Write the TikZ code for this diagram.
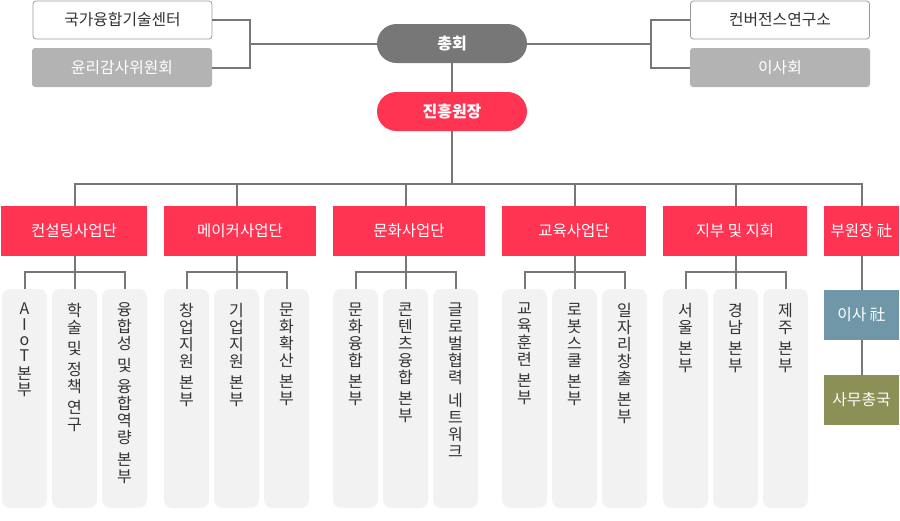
\documentclass[tikz,border=0pt]{standalone}
\usepackage{fontspec}
\setmainfont{Noto Sans CJK KR}
\usetikzlibrary{calc}
\definecolor{kred}{HTML}{FF3352}
\definecolor{cgray}{HTML}{777777}
\definecolor{dgray}{HTML}{777777}
\definecolor{lgray}{HTML}{B3B3B3}
\definecolor{bord}{HTML}{999999}
\definecolor{subg}{HTML}{F2F2F2}
\definecolor{dtext}{HTML}{333333}
\definecolor{kblue}{HTML}{6F97A8}
\definecolor{kolive}{HTML}{8A9056}
\begin{document}
\begin{tikzpicture}[x=1pt,y=-1pt,
  conn/.style={draw=cgray, line width=2pt},
  topw/.style={draw=bord, line width=0.8pt, fill=white, rounded corners=3pt, minimum width=179pt, minimum height=38pt, inner sep=0pt, text=dtext, font=\fontsize{15.8}{18}\selectfont},
  topg/.style={fill=lgray, rounded corners=3pt, minimum width=180pt, minimum height=39pt, inner sep=0pt, text=white, font=\fontsize{15.8}{18}\selectfont},
  pill/.style={rounded corners=19.5pt, minimum width=150pt, minimum height=39pt, inner sep=0pt, text=white, font=\fontsize{16}{18}\selectfont\bfseries},
  secbox/.style={fill=kred, minimum height=50pt, inner sep=0pt, text=white, font=\fontsize{15.5}{17}\selectfont},
  subbox/.style={fill=subg, rounded corners=8pt, minimum width=45pt, minimum height=219pt, inner sep=0pt},
  vt/.style={anchor=north, align=center, inner sep=0pt, text=dtext, font=\fontsize{16}{17}\selectfont},
  sidebox/.style={minimum width=75pt, minimum height=50pt, inner sep=0pt, text=white, font=\fontsize{15.8}{18}\selectfont}
]
\useasboundingbox (0,0) rectangle (900,520);

% top
\node[topw] (c1) at (122.5,20) {국가융합기술센터};
\node[topg] (c2) at (122,67.5) {윤리감사위원회};
\node[topw] (c3) at (780,20) {컨버전스연구소};
\node[topg] (c4) at (780,67.5) {이사회};
\node[pill, fill=dgray] (chong) at (452,43.5) {총회};
\node[pill, fill=kred] (jin) at (452,111.5) {진흥원장};

% sections
\node[secbox, minimum width=146pt] (s1) at (74,231) {컨설팅사업단};
\node[secbox, minimum width=152pt] (s2) at (240,231) {메이커사업단};
\node[secbox, minimum width=152pt] (s3) at (409,231) {문화사업단};
\node[secbox, minimum width=144pt] (s4) at (574,231) {교육사업단};
\node[secbox, minimum width=144pt] (s5) at (735,231) {지부 및 지회};
\node[secbox, minimum width=75pt] (s6) at (861.5,231) {부원장 社};

\node[sidebox, fill=kblue] (g1) at (861.5,315) {이사 社};
\node[sidebox, fill=kolive] (g2) at (861.5,400) {사무총국};

% sub boxes
\foreach \n/\x in {a1/24.5,a2/74.5,a3/124.5,b1/186.5,b2/236.5,b3/286.5,c1s/355.5,c2s/405.5,c3s/455.5,d1/524.5,d2/574.5,d3/624.5,e1/685.5,e2/735.5,e3/785.5}
  \node[subbox] (\n) at (\x,398.5) {};

\node[vt, font=\fontsize{16}{15.5}\selectfont] (ta1) at ([yshift=-14pt]a1.north) {A\\I\\o\\T\\[3pt]본\\부};
\node[vt] (ta2) at ([yshift=-14pt]a2.north) {학\\술\\[4pt]및\\[4pt]정\\책\\[4pt]연\\구};
\node[vt] (ta3) at ([yshift=-14pt]a3.north) {융\\합\\성\\[5pt]및\\[4pt]융\\합\\역\\량\\[5pt]본\\부};
\node[vt] (tb1) at ([yshift=-14pt]b1.north) {창\\업\\지\\원\\[4pt]본\\부};
\node[vt] (tb2) at ([yshift=-14pt]b2.north) {기\\업\\지\\원\\[4pt]본\\부};
\node[vt] (tb3) at ([yshift=-14pt]b3.north) {문\\화\\확\\산\\[4pt]본\\부};
\node[vt] (tc1) at ([yshift=-14pt]c1s.north) {문\\화\\융\\합\\[4pt]본\\부};
\node[vt] (tc2) at ([yshift=-14pt]c2s.north) {콘\\텐\\츠\\융\\합\\[4pt]본\\부};
\node[vt] (tc3) at ([yshift=-14pt]c3s.north) {글\\로\\벌\\협\\력\\[6pt]네\\트\\워\\크};
\node[vt] (td1) at ([yshift=-14pt]d1.north) {교\\육\\훈\\련\\[4pt]본\\부};
\node[vt] (td2) at ([yshift=-14pt]d2.north) {로\\봇\\스\\쿨\\[4pt]본\\부};
\node[vt] (td3) at ([yshift=-14pt]d3.north) {일\\자\\리\\창\\출\\[4pt]본\\부};
\node[vt] (te1) at ([yshift=-14pt]e1.north) {서\\울\\[4pt]본\\부};
\node[vt] (te2) at ([yshift=-14pt]e2.north) {경\\남\\[4pt]본\\부};
\node[vt] (te3) at ([yshift=-14pt]e3.north) {제\\주\\[4pt]본\\부};

% connectors top
\coordinate (jl) at (250,43.5);
\coordinate (jr) at (651,43.5);
\draw[conn] (c1.east) -| (jl) |- (c2.east);
\draw[conn] (jl) -- (chong.west);
\draw[conn] (c3.west) -| (jr) |- (c4.west);
\draw[conn] (jr) -- (chong.east);
\draw[conn] (chong.south) -- (jin.north);
\coordinate (bus) at (452,184);
\draw[conn] (jin.south) -- (bus);
\draw[conn] (s1.north -| a2.north) |- (bus) -| (s6.north);
\draw[conn] (s2.north -| b2.north) -- (b2.north |- bus);
\draw[conn] (s3.north -| c2s.north) -- (c2s.north |- bus);
\draw[conn] (s4.north -| d2.north) -- (d2.north |- bus);
\draw[conn] (s5.north -| e2.north) -- (e2.north |- bus);

% connectors to sub boxes
\foreach \s/\l/\m/\r in {s1/a1/a2/a3, s2/b1/b2/b3, s3/c1s/c2s/c3s, s4/d1/d2/d3, s5/e1/e2/e3}{
  \draw[conn] (\s.south -| \m.north) -- (\m.north);
  \draw[conn] (\s.south -| \m.north) |- ([yshift=17pt]\l.north) -- (\l.north);
  \draw[conn] (\s.south -| \m.north) |- ([yshift=17pt]\r.north) -- (\r.north);
}
\draw[conn] (s6.south) -- (g1.north);
\draw[conn] (g1.south) -- (g2.north);
\end{tikzpicture}
\end{document}
